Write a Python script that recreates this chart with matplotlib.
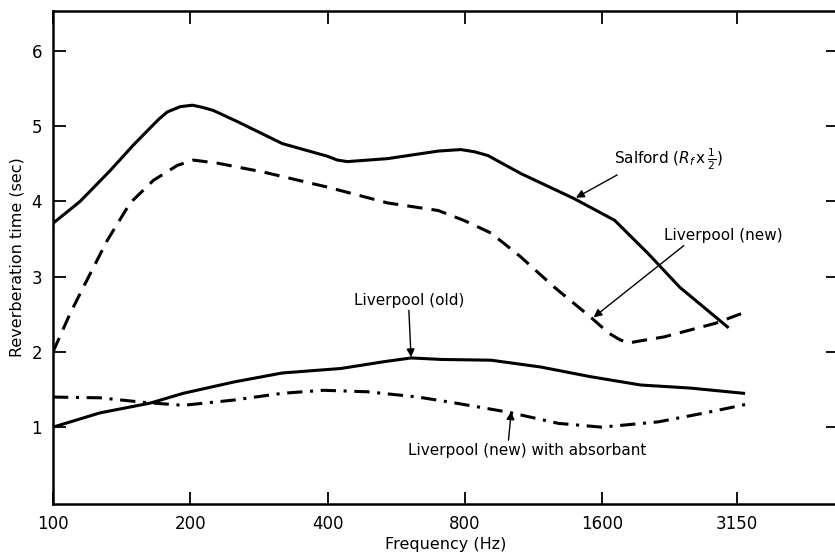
import numpy as np
import matplotlib
matplotlib.use('Agg')
from matplotlib import pyplot as plt
from matplotlib.ticker import FixedLocator, NullLocator

# frequency (Hz) / reverberation time (sec)
salford_f = [100, 114.6, 133.4, 150, 163.4, 171, 178, 190, 202, 213, 224.6, 253.9,
             317.9, 400, 420, 442, 541.7, 698.3, 782.7, 840, 898, 1061, 1385, 1701,
             2013, 2363, 3024]
salford_t = [3.71, 4.0, 4.41, 4.75, 4.98, 5.1, 5.19, 5.26, 5.28, 5.25, 5.21, 5.06,
             4.77, 4.6, 4.55, 4.53, 4.57, 4.67, 4.69, 4.66, 4.61, 4.37, 4.04, 3.75,
             3.31, 2.86, 2.32]

lpool_new_f = [100, 109, 118.8, 131.4, 147.6, 165.9, 187.3, 203, 229, 289.6, 400,
               541.7, 698.3, 794, 912, 1061, 1255, 1509, 1651, 1750, 1829, 1950, 2185,
               2827, 3228]
lpool_new_t = [2.0, 2.51, 2.96, 3.48, 3.98, 4.28, 4.48, 4.55, 4.51, 4.39, 4.19,
               3.98, 3.88, 3.75, 3.58, 3.26, 2.86, 2.46, 2.25, 2.16, 2.12, 2.15, 2.2,
               2.38, 2.51]

lpool_old_f = [100, 126.8, 163.4, 193, 248.9, 317.9, 427.6, 531, 609.4, 708.9, 912,
               1170, 1509, 1942, 2488, 3261]
lpool_old_t = [1.0, 1.19, 1.32, 1.45, 1.6, 1.72, 1.78, 1.87, 1.92, 1.9, 1.89,
               1.8, 1.67, 1.56, 1.52, 1.45]

absorb_f = [100, 126.8, 157.7, 193, 248.9, 317.9, 391.6, 489.2, 631, 745.6, 993,
            1281, 1594, 2120, 2741, 3345]
absorb_t = [1.4, 1.39, 1.33, 1.29, 1.36, 1.45, 1.49, 1.47, 1.4, 1.33, 1.2,
            1.05, 1.0, 1.07, 1.2, 1.31]

xticks = [100, 200, 400, 800, 1600, 3150]
yticks = [1, 2, 3, 4, 5, 6]

plt.rcParams['font.family'] = ['DejaVu Sans']

fig = plt.figure(figsize=(8.35, 5.58), dpi=100)
ax = fig.add_axes([0.0635, 0.097, 0.940, 0.883])

lw = 2.2
ax.plot(salford_f, salford_t, color='black', lw=lw, solid_capstyle='butt')
ax.plot(lpool_new_f, lpool_new_t, color='black', lw=lw, ls=(0, (5, 3)))
ax.plot(lpool_old_f, lpool_old_t, color='black', lw=lw)
ax.plot(absorb_f, absorb_t, color='black', lw=lw, ls=(0, (5, 2.5, 1, 2.5)))

ax.set_xscale('log')
ax.set_xlim(100, 5250)
ax.set_ylim(-0.02, 6.53)
ax.xaxis.set_major_locator(FixedLocator(xticks))
ax.xaxis.set_minor_locator(NullLocator())
ax.set_xticklabels([str(v) for v in xticks])
ax.set_yticks(yticks)
ax.tick_params(direction='in', length=9, width=1.3, labelsize=12,
               top=True, right=True, pad=8)
for s in ax.spines.values():
    s.set_linewidth(1.8)

ax.set_xlabel('Frequency (Hz)', fontsize=11.5, labelpad=3)
ax.set_ylabel('Reverberation time (sec)', fontsize=11.5, labelpad=5)

arrow = dict(arrowstyle='-|>', color='black', lw=1.0, mutation_scale=12,
             shrinkA=0, shrinkB=0)
ax.annotate(r'Salford ($R_f\,$x$\,\frac{1}{2}$)', xy=(1400, 4.05), xytext=(1692, 4.56),
            ha='left', va='center', fontsize=11,
            arrowprops=dict(arrow, relpos=(0.08, 0.0)))
ax.annotate('Liverpool (new)', xy=(1530, 2.46), xytext=(2178, 3.55),
            ha='left', va='center', fontsize=11,
            arrowprops=dict(arrow, relpos=(0.2, 0.0)))
ax.annotate('Liverpool (old)', xy=(609, 1.93), xytext=(602, 2.69),
            ha='center', va='center', fontsize=11,
            arrowprops=dict(arrow, relpos=(0.5, 0.0)))
ax.annotate('Liverpool (new) with absorbant', xy=(1010, 1.21), xytext=(600, 0.69),
            ha='left', va='center', fontsize=11,
            arrowprops=dict(arrow, relpos=(0.42, 1.0)))

fig.savefig('out.png', dpi=100)
